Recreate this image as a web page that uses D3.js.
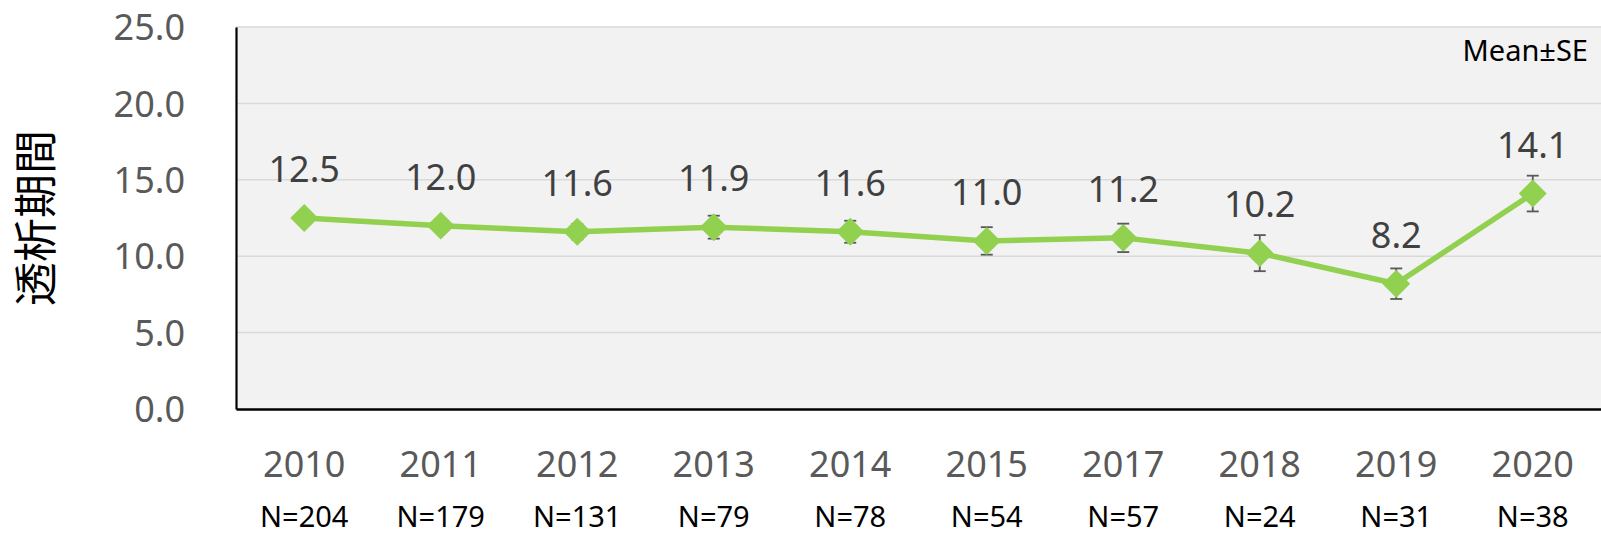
<!DOCTYPE html>
<html>
<head>
<meta charset="utf-8">
<script src="https://cdn.jsdelivr.net/npm/d3@7"></script>
<style>
  html, body { margin: 0; padding: 0; background: #ffffff; }
  svg { display: block; }
</style>
</head>
<body>
<svg id="chart" width="1601" height="535"></svg>
<script>
const years = ["2010","2011","2012","2013","2014","2015","2017","2018","2019","2020"];
const nLabels = ["N=204","N=179","N=131","N=79","N=78","N=54","N=57","N=24","N=31","N=38"];
const means = [12.5, 12.0, 11.6, 11.9, 11.6, 11.0, 11.2, 10.2, 8.2, 14.1];
const ses = [0.35, 0.4, 0.5, 0.75, 0.72, 0.9, 0.93, 1.18, 1.0, 1.17];
const yTicks = [0, 5, 10, 15, 20, 25];
const yTitle = "透析期間";
const noteText = "Mean±SE";

const svg = d3.select("#chart");
const plot = { left: 236, right: 1601, top: 27, bottom: 409 };

const x = d3.scaleBand().domain(years).range([plot.left, plot.right]).padding(0);
const y = d3.scaleLinear().domain([0, 25]).range([plot.bottom, plot.top]);
const cx = d => x(d) + x.bandwidth() / 2;

// plot background
svg.append("rect")
  .attr("x", plot.left).attr("y", plot.top)
  .attr("width", plot.right - plot.left).attr("height", plot.bottom - plot.top)
  .attr("fill", "#f2f2f2");

// gridlines
svg.append("g").selectAll("line").data(yTicks.filter(t => t > 0)).join("line")
  .attr("x1", plot.left).attr("x2", plot.right)
  .attr("y1", d => y(d)).attr("y2", d => y(d))
  .attr("stroke", "#d9d9d9").attr("stroke-width", 1.5);

// y axis
const yAxis = d3.axisLeft(y).tickValues(yTicks).tickFormat(d3.format(".1f")).tickSize(0).tickPadding(51);
const gy = svg.append("g").attr("transform", `translate(${plot.left},0)`).call(yAxis);
gy.select(".domain").attr("stroke", "#000").attr("stroke-width", 2.2);
gy.selectAll("text")
  .attr("font-family", "'Noto Sans', sans-serif").attr("font-size", 36)
  .attr("fill", "#595959").attr("dy", "0.35em");

// x axis line
const xAxis = d3.axisBottom(x).tickSize(0).tickPadding(0).tickFormat(() => "");
const gx = svg.append("g").attr("transform", `translate(0,${plot.bottom})`).call(xAxis);
gx.select(".domain").attr("stroke", "#000").attr("stroke-width", 2.6);

// year labels
svg.append("g").selectAll("text").data(years).join("text")
  .attr("x", d => cx(d)).attr("y", 477)
  .attr("text-anchor", "middle")
  .attr("font-family", "'Noto Sans', sans-serif").attr("font-size", 36)
  .attr("fill", "#595959").text(d => d);

// N labels
svg.append("g").selectAll("text").data(years).join("text")
  .attr("x", d => cx(d)).attr("y", 527)
  .attr("text-anchor", "middle")
  .attr("font-family", "'Noto Sans', sans-serif").attr("font-size", 29)
  .attr("fill", "#000").text((d, i) => nLabels[i]);

// error bars
const eb = svg.append("g").attr("stroke", "#595959").attr("stroke-width", 1.8);
years.forEach((yr, i) => {
  const xx = cx(yr);
  const y1 = y(means[i] + ses[i]), y2 = y(means[i] - ses[i]);
  eb.append("line").attr("x1", xx).attr("x2", xx).attr("y1", y1).attr("y2", y2);
  eb.append("line").attr("x1", xx - 6).attr("x2", xx + 6).attr("y1", y1).attr("y2", y1);
  eb.append("line").attr("x1", xx - 6).attr("x2", xx + 6).attr("y1", y2).attr("y2", y2);
});

// line
const line = d3.line().x((d, i) => cx(years[i])).y(d => y(d));
svg.append("path").datum(means)
  .attr("d", line).attr("fill", "none")
  .attr("stroke", "#92d050").attr("stroke-width", 5.5).attr("stroke-linejoin", "round");

// diamond markers
svg.append("g").selectAll("path").data(means).join("path")
  .attr("transform", (d, i) => `translate(${cx(years[i])},${y(d)}) rotate(45)`)
  .attr("d", d3.symbol().type(d3.symbolSquare).size(390))
  .attr("fill", "#92d050");

// data labels
svg.append("g").selectAll("text").data(means).join("text")
  .attr("x", (d, i) => cx(years[i])).attr("y", d => y(d) - 36)
  .attr("text-anchor", "middle")
  .attr("font-family", "'Noto Sans', sans-serif").attr("font-size", 36)
  .attr("fill", "#404040").text(d => d3.format(".1f")(d));

// note
svg.append("text")
  .attr("x", 1588).attr("y", 61).attr("text-anchor", "end")
  .attr("font-family", "'Noto Sans', sans-serif").attr("font-size", 29)
  .attr("fill", "#000").text(noteText);

// y title
svg.append("text")
  .attr("transform", `translate(52,${(plot.top + plot.bottom) / 2}) rotate(-90)`)
  .attr("text-anchor", "middle")
  .attr("font-family", "'Noto Sans CJK JP', sans-serif").attr("font-size", 44)
  .attr("fill", "#000").text(yTitle);
</script>
</body>
</html>
